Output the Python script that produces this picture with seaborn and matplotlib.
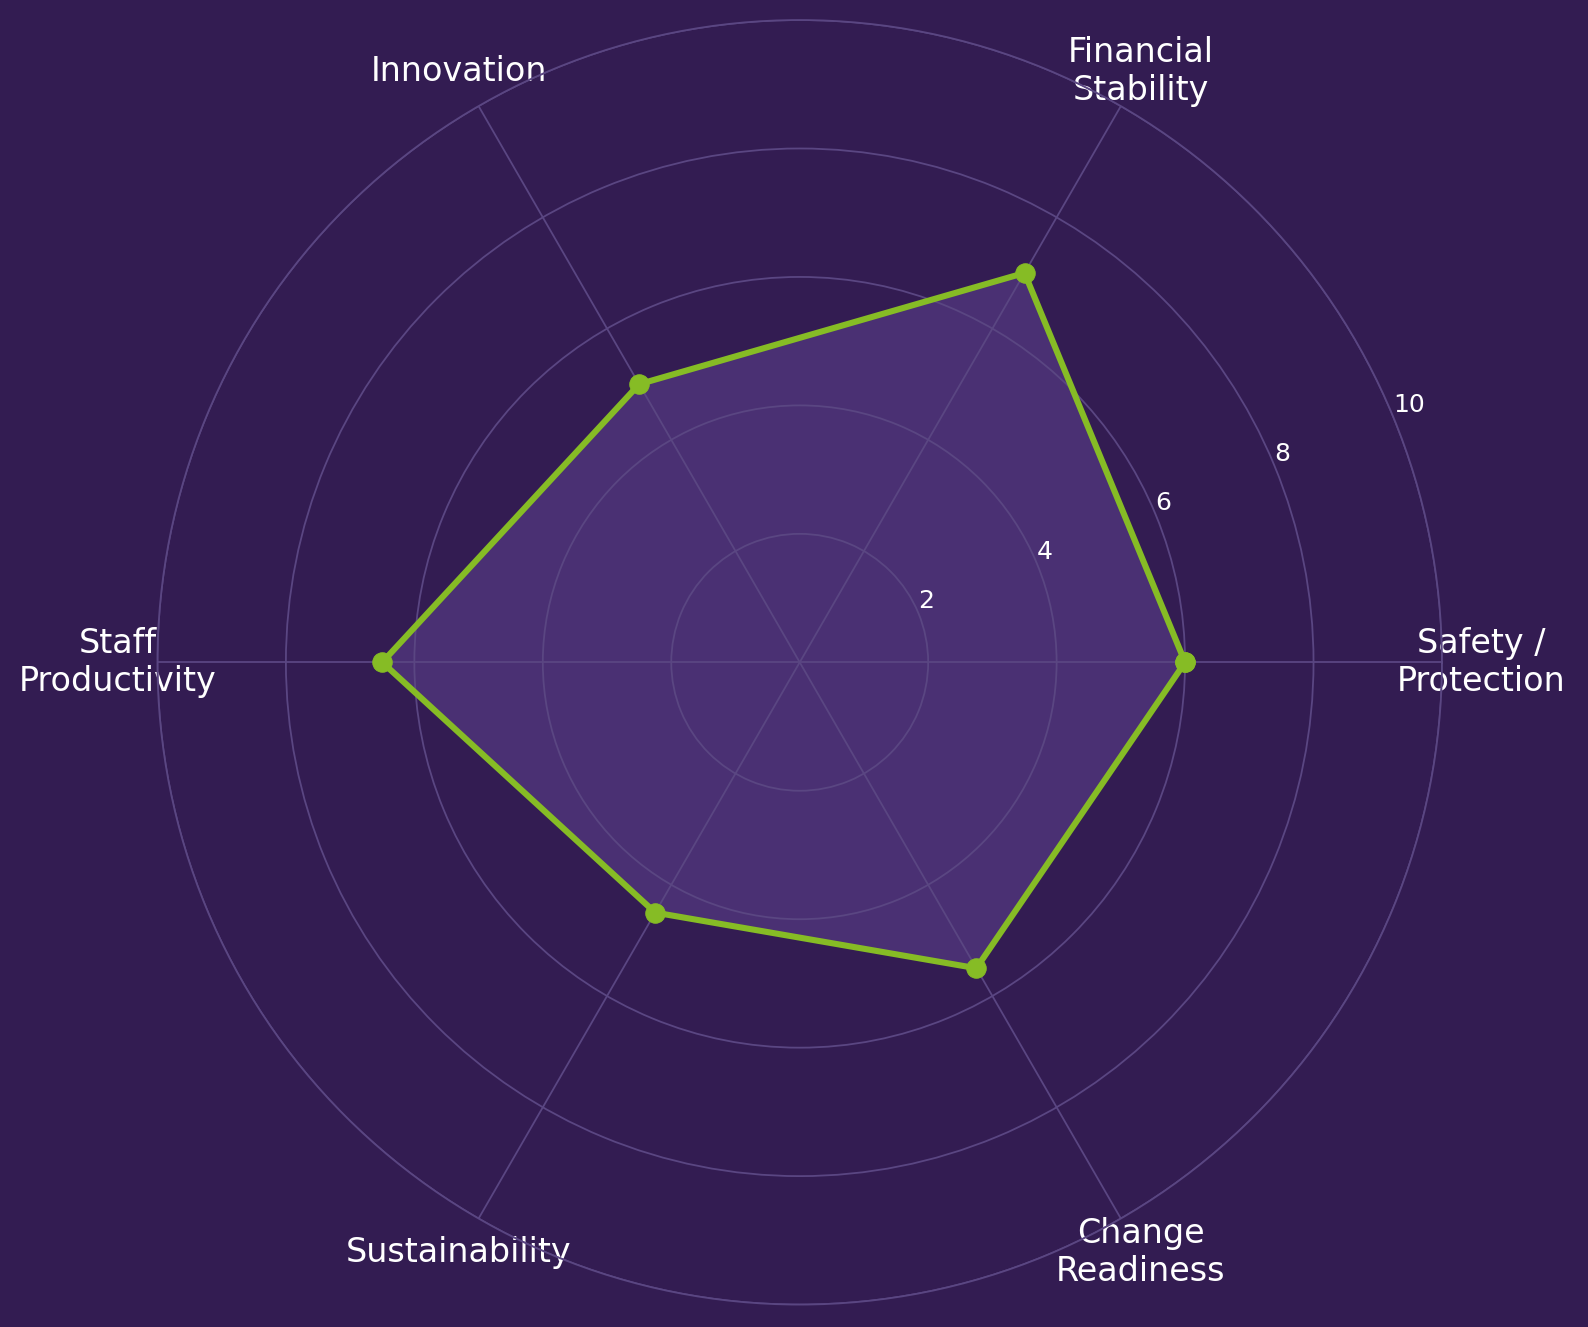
import numpy as np
import pandas as pd
import matplotlib
matplotlib.use("Agg")
import matplotlib.pyplot as plt
import seaborn as sns

# ---------- Data ----------
categories = ['Safety /\nProtection', 'Financial\nStability', 'Innovation',
              'Staff\nProductivity', 'Sustainability', 'Change\nReadiness']
scores = [6, 7, 5, 6.5, 4.5, 5.5]
r_ticks = [2, 4, 6, 8, 10]

# ---------- Colours ----------
bg = '#331c52'
grid_col = '#5a4682'
fill_col = '#5d4190'
line_col = '#86bc25'

sns.set_theme(style='white')
plt.rcParams['font.family'] = ['DejaVu Sans']

n = len(categories)
angles = np.linspace(0, 2 * np.pi, n, endpoint=False)
# close the loop with the first point at 2*pi
df = pd.DataFrame({
    'angle': np.append(angles, 2 * np.pi),
    'score': scores + [scores[0]],
})

fig = plt.figure(figsize=(15.88, 13.27), dpi=100, facecolor=bg)
ax = fig.add_axes([0.0991, 0.0169, 0.809, 0.968], projection='polar')
ax.set_facecolor(bg)

ax.fill(df['angle'], df['score'], color=fill_col, alpha=0.55, zorder=1)
sns.lineplot(data=df, x='angle', y='score', ax=ax, sort=False, estimator=None,
             color=line_col, linewidth=4.4, marker='o', markersize=14,
             markeredgecolor=line_col, zorder=3)

ax.set_ylim(0, 10)
ax.set_xticks(angles)
ax.set_xticklabels(categories, color='white', fontsize=24)
ax.tick_params(axis='x', pad=15.5)
ax.set_yticks(r_ticks)
ax.set_yticklabels([str(t) for t in r_ticks], color='white', fontsize=18)
ax.set_rlabel_position(22.5)
ax.grid(True, color=grid_col, linewidth=1.3)
ax.xaxis.set_zorder(2)
ax.yaxis.set_zorder(2)
ax.spines['polar'].set_color(grid_col)
ax.spines['polar'].set_linewidth(1.3)
ax.set_xlabel('')
ax.set_ylabel('')

fig.savefig('out.png', dpi=100, facecolor=bg)
